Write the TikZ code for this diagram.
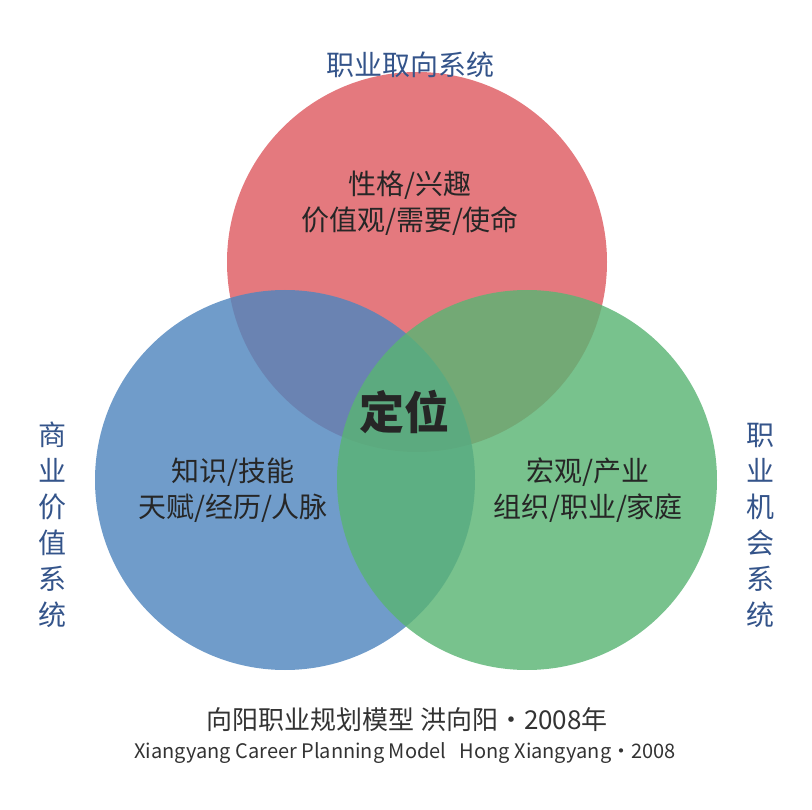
\documentclass[tikz,border=0pt]{standalone}
\usepackage{fontspec}
\setmainfont{Noto Sans CJK SC}
\usetikzlibrary{positioning}
\definecolor{ringred}{RGB}{222,92,98}
\definecolor{ringblue}{RGB}{80,134,190}
\definecolor{ringgreen}{RGB}{90,180,116}
\definecolor{titleblue}{RGB}{52,84,138}
\begin{document}
\begin{tikzpicture}[x=1pt,y=-1pt]
    \tikzset{RING/.style={circle,minimum size=380pt,inner sep=0pt,fill opacity=0.82,draw=none}}
    \tikzset{LBL/.style={align=center,font=\fontsize{28}{36}\selectfont,text=black!85}}
    \tikzset{SYS/.style={align=center,font=\fontsize{28}{36}\selectfont,text=titleblue}}

    \useasboundingbox (0,0) rectangle (812,810);

    \node (red) [RING,fill=ringred] at (417,262) {};
    \node (blue) [RING,fill=ringblue] at (285,480) {};
    \node (green) [RING,fill=ringgreen] at (527,480) {};

    \node (t1) [LBL] at (410,203) {性格/兴趣\\价值观/需要/使命};
    \node (t2) [LBL] at (233,490) {知识/技能\\天赋/经历/人脉};
    \node (t3) [LBL] at (588,490) {宏观/产业\\组织/职业/家庭};
    \node (core) [font=\fontsize{45}{48}\selectfont\bfseries,text=black!85] at (404,412) {定位};

    \node (top) [SYS] at (410,65) {职业取向系统};
    \node (left) [SYS] at (52,525) {商\\业\\价\\值\\系\\统};
    \node (right) [SYS] at (760,525) {职\\业\\机\\会\\系\\统};

    \node (cap1) [font=\fontsize{26}{28}\selectfont,text=black!80] at (407,720) {向阳职业规划模型\ 洪向阳・2008年};
    \node (cap2) [font=\fontsize{20}{22}\selectfont,text=black!80] at (405,753) {Xiangyang Career Planning Model\ \ \ Hong Xiangyang・2008};
\end{tikzpicture}
\end{document}
